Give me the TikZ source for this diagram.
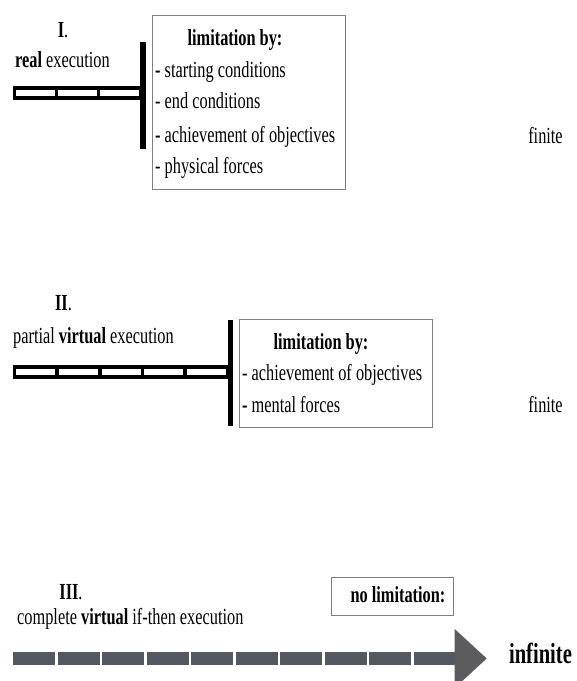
\documentclass[tikz,border=0pt]{standalone}
\usepackage{fontspec}
\setmainfont[FakeStretch=0.71]{Liberation Serif}
\definecolor{framegray}{RGB}{128,128,128}
\definecolor{blockgray}{RGB}{84,89,97}
\definecolor{headgray}{RGB}{92,92,94}

\begin{document}
\begin{tikzpicture}[
    x=1pt, y=-1pt,
    txt/.style={font=\fontsize{23}{27}\selectfont, inner sep=0pt, text height=15.5pt, text depth=4.5pt},
    item/.style={txt, anchor=west},
    limbox/.style={draw=framegray, line width=0.8pt, inner sep=0pt},
    cell/.style={draw, line width=3.6pt, fill=white, inner sep=0pt, minimum height=10.4pt},
    stopbar/.style={fill=black, inner sep=0pt, minimum width=6pt},
    block/.style={fill=blockgray, inner sep=0pt, minimum width=42pt, minimum height=13pt}
]
\useasboundingbox (0,0) rectangle (577,681);

% I. real execution
\node[txt] (numI) at (63,32) {\textbf{I}.};
\node[item] (execI) at (15,62) {\textbf{real} execution};
\node[cell, minimum width=42pt] (r1) at (35.5,93) {};
\node[cell, minimum width=42pt] (r2) at (77.5,93) {};
\node[cell, minimum width=42pt] (r3) at (119.5,93) {};
\node[stopbar, minimum height=107pt] (stopI) at (143,95.5) {};
\node[limbox, minimum width=193pt, minimum height=174pt] (limI) at (248.5,102) {};
\node[txt] (headI) at (235,40) {\textbf{limitation by:}};
\node[item] (i1) at (155,72) {\textbf{-} starting conditions};
\node[item] (i2) at (155,103) {- end conditions};
\node[item] (i3) at (155,137) {\textbf{-} achievement of objectives};
\node[item] (i4) at (155,168) {- physical forces};
\node[txt] (finI) at (545.5,138) {finite};

% II. partial virtual execution
\node[txt] (numII) at (63.5,305) {\textbf{II}.};
\node[item] (execII) at (13,338) {partial \textbf{virtual} execution};
\node[cell, minimum width=42.6pt] (p1) at (35.8,372) {};
\node[cell, minimum width=42.6pt] (p2) at (78.4,372) {};
\node[cell, minimum width=42.6pt] (p3) at (121,372) {};
\node[cell, minimum width=42.6pt] (p4) at (163.6,372) {};
\node[cell, minimum width=42.6pt] (p5) at (206.2,372) {};
\node[stopbar, minimum height=106pt, minimum width=5pt] (stopII) at (230.5,373) {};
\node[limbox, minimum width=193pt, minimum height=108pt] (limII) at (335.5,373) {};
\node[txt] (headII) at (321,344) {\textbf{limitation by:}};
\node[item] (j1) at (242,375) {- achievement of objectives};
\node[item] (j2) at (242,407) {\textbf{-} mental forces};
\node[txt] (finII) at (545.5,407) {finite};

% III. complete virtual execution
\node[txt] (numIII) at (71,594) {\textbf{III}.};
\node[item] (execIII) at (17,619) {complete \textbf{virtual} if-then execution};
\node[limbox, minimum width=122pt, minimum height=38pt] (nolim) at (392,596) {};
\node[txt] (nolimtxt) at (398,597) {\textbf{no limitation:}};
\node[block] (c1) at (34,658.5) {};
\node[block] (c2) at (78.5,658.5) {};
\node[block] (c3) at (123,658.5) {};
\node[block] (c4) at (167.5,658.5) {};
\node[block] (c5) at (212,658.5) {};
\node[block] (c6) at (256.5,658.5) {};
\node[block] (c7) at (301,658.5) {};
\node[block] (c8) at (345.5,658.5) {};
\node[block] (c9) at (390,658.5) {};
\node[block] (c10) at (434.5,658.5) {};
\fill[headgray] (c10.east) ++(-1,-29.5) -- ++(32,29.5) -- ++(-32,29.5) -- cycle;
\node[txt, font=\fontsize{29}{32}\selectfont\bfseries, text height=19pt, text depth=1pt] (infin) at (540.5,654) {infinite};

\end{tikzpicture}
\end{document}
